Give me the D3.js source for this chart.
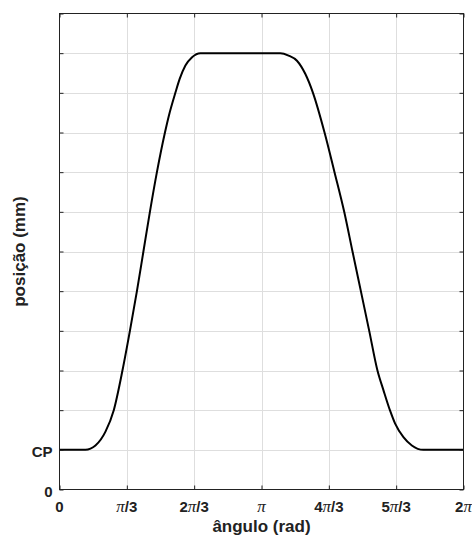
<!DOCTYPE html>
<html>
<head>
<meta charset="utf-8">
<script src="https://cdn.jsdelivr.net/npm/d3@7"></script>
<style>
    body { margin: 0; background: #fff; }
    svg { display: block; font-family: "Liberation Sans", Arial, sans-serif; }
</style>
</head>
<body>
<div class="graphContainer"></div>
<script>
// Cam angle (rad) and follower position (grid units, CP = 1)
const angles = [0, 0.404, 0.482, 0.559, 0.715, 0.844, 0.979, 1.095, 1.204, 1.305, 1.406,
    1.515, 1.640, 1.702, 1.802, 1.869, 1.958, 2.062, 2.191,
    3.434, 3.563, 3.693, 3.822, 3.942, 4.122, 4.277, 4.428, 4.557, 4.687, 4.817, 4.945,
    5.039, 5.143, 5.220, 5.349, 5.480, 5.660, 6.2832];
const positions = [1, 1, 1.03, 1.11, 1.46, 2, 3, 4, 5, 6, 7,
    8, 9, 9.43, 10, 10.35, 10.69, 10.90, 11,
    11, 10.94, 10.81, 10.48, 10, 9, 8, 7, 6, 5, 4, 3,
    2.50, 1.98, 1.66, 1.32, 1.11, 1, 1];

// Ticks
const xTicks = [0, Math.PI / 3, 2 * Math.PI / 3, Math.PI, 4 * Math.PI / 3, 5 * Math.PI / 3, 2 * Math.PI];
const xTickLabels = ['0', 'π/3', '2π/3', 'π', '4π/3', '5π/3', '2π'];
const yTicks = [0, 1, 2, 3, 4, 5, 6, 7, 8, 9, 10, 11, 12];
const yTickLabels = { 0: '0', 1: 'CP' };

const xTitle = 'ângulo (rad)';
const yTitle = 'posição (mm)';

/**
 * Write a label, setting every π in italic serif.
 */
const writeLabel = (sel, label) => {
    label.split(/(π)/).filter(s => s.length).forEach(part => {
        const t = sel.append('tspan').text(part);
        if (part === 'π') {
            t.attr('font-family', '"Liberation Serif", "Times New Roman", serif')
                .attr('font-style', 'italic')
                .attr('font-weight', 'normal')
                .attr('font-size', 17);
        }
    });
};

const renderChart = () => {
    const W = 472, H = 543;
    const left = 59.5, right = 463.5, top = 13.5, bottom = 489.5;

    const svg = d3.select('.graphContainer')
        .append('svg')
        .attr('width', W)
        .attr('height', H);

    svg.append('rect').attr('width', W).attr('height', H).attr('fill', '#fff');

    const x = d3.scaleLinear().domain([0, 2 * Math.PI]).range([left, right]);
    const y = d3.scaleLinear().domain([0, 12]).range([bottom, top]);

    // Grid
    const grid = svg.append('g').attr('stroke', '#dedede').attr('stroke-width', 1);
    grid.selectAll('.gx')
        .data(xTicks.slice(1, -1))
        .enter().append('line')
        .attr('x1', d => Math.round(x(d)) + 0.5).attr('x2', d => Math.round(x(d)) + 0.5)
        .attr('y1', top).attr('y2', bottom);
    grid.selectAll('.gy')
        .data(yTicks.slice(1, -1))
        .enter().append('line')
        .attr('y1', d => Math.round(y(d)) + 0.5).attr('y2', d => Math.round(y(d)) + 0.5)
        .attr('x1', left).attr('x2', right);

    // Curve
    const data = angles.map((a, i) => ({ a, p: positions[i] }));
    svg.append('path')
        .datum(data)
        .attr('fill', 'none')
        .attr('stroke', '#000')
        .attr('stroke-width', 2)
        .attr('stroke-linejoin', 'round')
        .attr('d', d3.line()
            .x(d => x(d.a))
            .y(d => y(d.p))
            .curve(d3.curveMonotoneX)
        );

    // Axes with inward ticks on all four sides
    const tick = 4;
    const styleAxis = g => {
        g.select('.domain').remove();
        g.selectAll('.tick line').attr('stroke', '#222');
        g.selectAll('.tick text').remove();
    };
    svg.append('g').attr('transform', `translate(0,${bottom})`)
        .call(d3.axisBottom(x).tickValues(xTicks).tickSize(-tick)).call(styleAxis);
    svg.append('g').attr('transform', `translate(0,${top})`)
        .call(d3.axisTop(x).tickValues(xTicks).tickSize(-tick)).call(styleAxis);
    svg.append('g').attr('transform', `translate(${left},0)`)
        .call(d3.axisLeft(y).tickValues(yTicks).tickSize(-tick)).call(styleAxis);
    svg.append('g').attr('transform', `translate(${right},0)`)
        .call(d3.axisRight(y).tickValues(yTicks).tickSize(-tick)).call(styleAxis);

    // Box
    svg.append('rect')
        .attr('x', left).attr('y', top)
        .attr('width', right - left).attr('height', bottom - top)
        .attr('fill', 'none').attr('stroke', '#222').attr('stroke-width', 1);

    // Tick labels
    svg.selectAll('.xlab')
        .data(xTicks)
        .enter().append('text')
        .attr('x', d => x(d))
        .attr('y', 511.5)
        .attr('text-anchor', 'middle')
        .attr('font-size', 15)
        .attr('font-weight', 'bold')
        .attr('fill', '#222')
        .each(function (d, i) { writeLabel(d3.select(this), xTickLabels[i]); });

    svg.selectAll('.ylab')
        .data(yTicks.filter(d => yTickLabels[d] !== undefined))
        .enter().append('text')
        .attr('x', 52.5)
        .attr('y', d => y(d) + 7)
        .attr('text-anchor', 'end')
        .attr('font-size', 15)
        .attr('font-weight', 'bold')
        .attr('fill', '#222')
        .text(d => yTickLabels[d]);

    // Axis titles
    svg.append('text')
        .attr('x', (left + right) / 2)
        .attr('y', 532)
        .attr('text-anchor', 'middle')
        .attr('font-size', 17)
        .attr('font-weight', 'bold')
        .attr('fill', '#222')
        .text(xTitle);

    svg.append('text')
        .attr('transform', `translate(25,${(top + bottom) / 2}) rotate(-90)`)
        .attr('text-anchor', 'middle')
        .attr('font-size', 17)
        .attr('font-weight', 'bold')
        .attr('fill', '#222')
        .text(yTitle);
};

renderChart();
</script>
</body>
</html>
